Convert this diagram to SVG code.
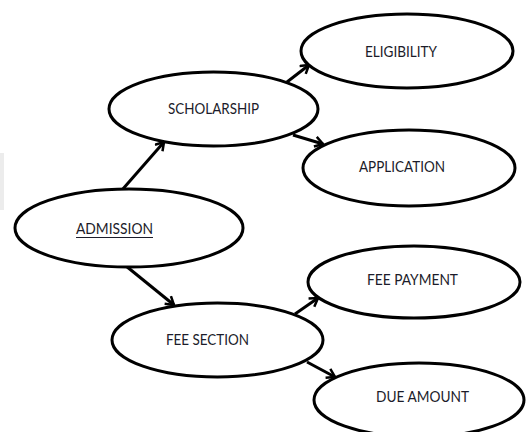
<svg xmlns="http://www.w3.org/2000/svg" width="528" height="432" viewBox="0 0 528 432">
  <style>
    .node ellipse { fill: #ffffff; stroke: #000000; stroke-width: 3; }
    .node text { font-family: Lato, "Liberation Sans", Arial, sans-serif; font-size: 14.5px; fill: #1c1c2a; text-anchor: middle; }
    .edge { stroke: #000000; stroke-width: 3; fill: none; marker-end: url(#arrow); }
  </style>
  <defs>
    <marker id="arrow" markerUnits="userSpaceOnUse" markerWidth="14" markerHeight="14" refX="10" refY="6" orient="auto">
      <path d="M2,1 L10,6 L2,11" fill="none" stroke="#000000" stroke-width="2.5" stroke-linejoin="miter"/>
    </marker>
  </defs>

  <rect x="0" y="0" width="528" height="432" fill="#ffffff"/>
  <rect x="0" y="153" width="4" height="57" fill="#ececec"/>

  <g id="connectors">
    <line class="edge" x1="122" y1="190" x2="164" y2="142"/>
    <line class="edge" x1="126" y1="266" x2="174" y2="305"/>
    <line class="edge" x1="287" y1="82" x2="309" y2="65"/>
    <line class="edge" x1="293" y1="135" x2="323" y2="144"/>
    <line class="edge" x1="295" y1="314" x2="318" y2="298"/>
    <line class="edge" x1="307" y1="362" x2="335" y2="377"/>
  </g>

  <g id="admission" class="node">
    <ellipse cx="129" cy="228" rx="114" ry="39"/>
    <text x="114.5" y="234" textLength="77" lengthAdjust="spacingAndGlyphs">ADMISSION</text>
    <line x1="76" y1="237.5" x2="153" y2="237.5" stroke="#1c1c2a" stroke-width="1"/>
  </g>

  <g id="scholarship" class="node">
    <ellipse cx="213.5" cy="109" rx="104.5" ry="37"/>
    <text x="213.5" y="114" textLength="91" lengthAdjust="spacingAndGlyphs">SCHOLARSHIP</text>
  </g>

  <g id="eligibility" class="node">
    <ellipse cx="407" cy="51" rx="106" ry="37"/>
    <text x="401" y="57" textLength="72" lengthAdjust="spacingAndGlyphs">ELIGIBILITY</text>
  </g>

  <g id="application" class="node">
    <ellipse cx="409" cy="168" rx="106" ry="38"/>
    <text x="402" y="172" textLength="86" lengthAdjust="spacingAndGlyphs">APPLICATION</text>
  </g>

  <g id="fee-section" class="node">
    <ellipse cx="217.5" cy="340" rx="105.5" ry="37"/>
    <text x="207.5" y="345" textLength="83" lengthAdjust="spacingAndGlyphs">FEE SECTION</text>
  </g>

  <g id="fee-payment" class="node">
    <ellipse cx="414" cy="282" rx="106" ry="36"/>
    <text x="412.5" y="285" textLength="91" lengthAdjust="spacingAndGlyphs">FEE PAYMENT</text>
  </g>

  <g id="due-amount" class="node">
    <ellipse cx="419" cy="400" rx="105" ry="37"/>
    <text x="422.5" y="402" textLength="93" lengthAdjust="spacingAndGlyphs">DUE AMOUNT</text>
  </g>
</svg>
